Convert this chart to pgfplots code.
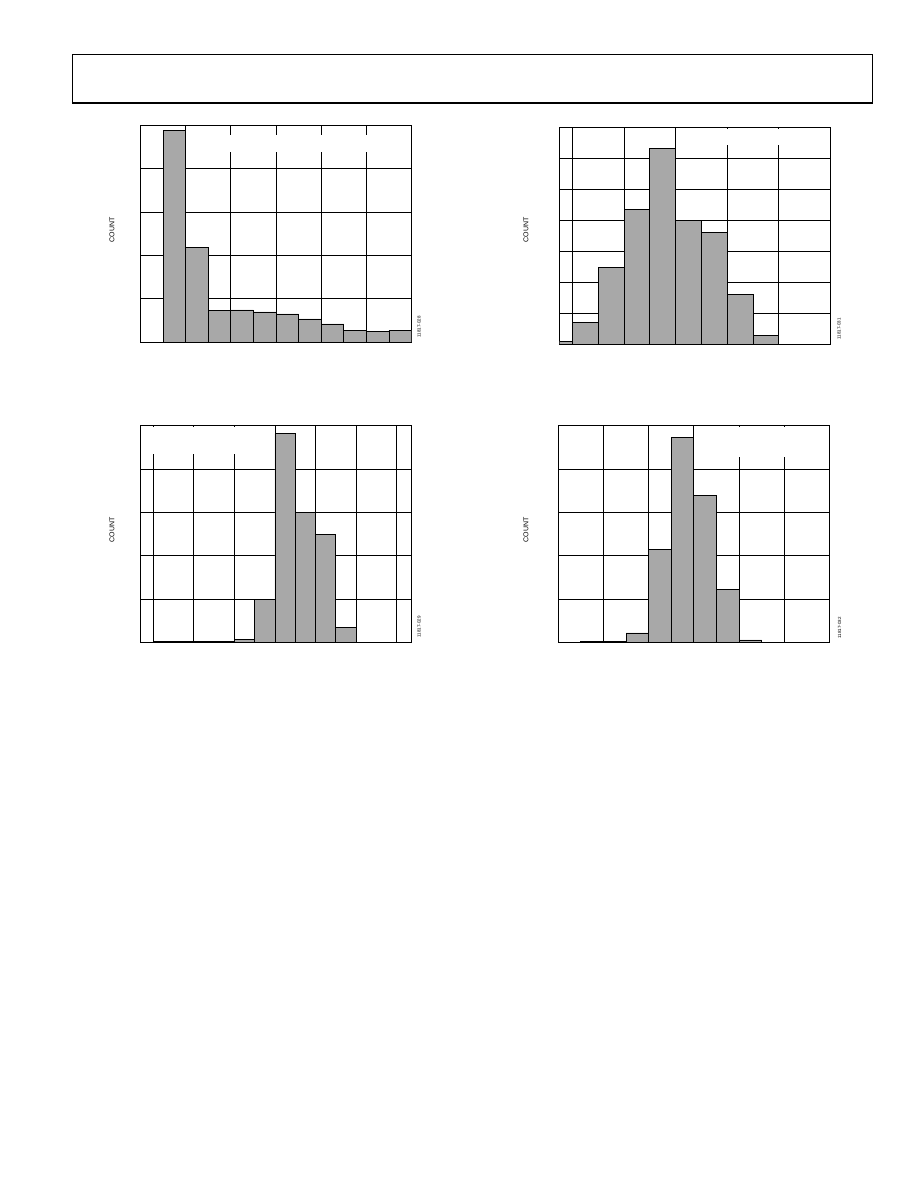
\documentclass[border=0pt]{standalone}
\usepackage{fontspec}
\setmainfont{Liberation Sans}
\usepackage{pgfplots}
\pgfplotsset{compat=1.18}
\definecolor{barfill}{RGB}{168,168,168}
\pgfplotsset{
  hist/.style={
    scale only axis, width=271pt, height=216.5pt, anchor=south west,
    axis line style={line width=0.8pt},
    grid=major, major grid style={black, line width=0.8pt},
    major tick length=0pt, tick style={draw=none},
    xticklabels={}, yticklabels={},
    ymin=0, clip=true,
  },
  histbar/.style={ybar interval, fill=barfill, draw=black, line width=0.8pt},
}
\begin{document}
\begin{tikzpicture}
\path[fill=white, use as bounding box] (0pt,0pt) rectangle (918pt,-1188pt);
% header box
\draw[line width=0.8pt] (72.3pt,-54.3pt) rectangle (872.7pt,-103.5pt);
\draw[line width=2.2pt] (71.9pt,-103.3pt) -- (873.1pt,-103.3pt);

% chart 1 (top left)
\begin{axis}[hist, at={(140.5pt,-342pt)}, xmin=0, xmax=12, ymax=5,
  xtick={2,4,6,8,10}, ytick={1,2,3,4}]
\fill[white] (axis cs:3,4.39) rectangle (axis cs:11.5,4.775);
\addplot[histbar] coordinates {
 (1,4.884) (2,2.180) (3,0.724) (4,0.740) (5,0.693) (6,0.647)
 (7,0.532) (8,0.416) (9,0.277) (10,0.254) (11,0.277) (12,0)};
\end{axis}
\node[rotate=90, font=\fontsize{7}{8}\selectfont] at (112pt,-230pt) {COUNT};
\node[rotate=90, font=\fontsize{4.5}{5}\selectfont] at (419pt,-327pt) {11817-028};

% chart 2 (top right)
\begin{axis}[hist, at={(559.5pt,-344pt)}, xmin=-0.5, xmax=10, ymax=7,
  xtick={0,2,4,6,8}, ytick={1,2,3,4,5,6}]
\fill[white] (axis cs:5.5,6.43) rectangle (axis cs:9.5,6.96);
\addplot[histbar] coordinates {
 (-1,0.097) (0,0.711) (1,2.488) (2,4.351) (3,6.332) (4,3.985)
 (5,3.608) (6,1.615) (7,0.28) (8,0)};
\end{axis}
\node[rotate=90, font=\fontsize{7}{8}\selectfont] at (526pt,-230pt) {COUNT};
\node[rotate=90, font=\fontsize{4.5}{5}\selectfont] at (839pt,-329pt) {11817-031};

% chart 3 (bottom left)
\begin{axis}[hist, at={(140pt,-642.3pt)}, xmin=-0.65, xmax=12.7, ymax=5,
  xtick={0,2,4,6,8,10,12}, ytick={1,2,3,4}]
\fill[white] (axis cs:-0.45,4.35) rectangle (axis cs:5.5,4.97);
\addplot[histbar] coordinates {
 (0,0.02) (1,0.02) (2,0.02) (3,0.02) (4,0.069) (5,0.997)
 (6,4.816) (7,2.991) (8,2.485) (9,0.345) (10,0)};
\end{axis}
\node[rotate=90, font=\fontsize{7}{8}\selectfont] at (112pt,-530pt) {COUNT};
\node[rotate=90, font=\fontsize{4.5}{5}\selectfont] at (419pt,-627pt) {11817-029};

% chart 4 (bottom right)
\begin{axis}[hist, at={(558.3pt,-642.3pt)}, xmin=0, xmax=12, ymax=5,
  xtick={2,4,6,8,10}, ytick={1,2,3,4}]
\fill[white] (axis cs:7.4,4.27) rectangle (axis cs:11.5,4.97);
\addplot[histbar] coordinates {
 (1,0.03) (2,0.03) (3,0.215) (4,2.147) (5,4.724) (6,3.382)
 (7,1.219) (8,0.054) (9,0)};
\end{axis}
\node[rotate=90, font=\fontsize{7}{8}\selectfont] at (526pt,-530pt) {COUNT};
\node[rotate=90, font=\fontsize{4.5}{5}\selectfont] at (839.5pt,-628pt) {11817-032};
\end{tikzpicture}
\end{document}
